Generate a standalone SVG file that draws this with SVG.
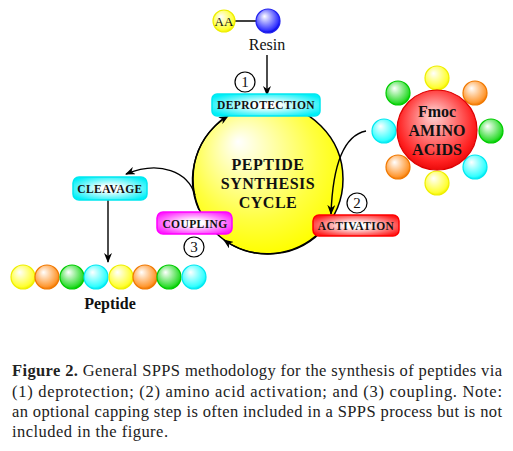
<svg xmlns="http://www.w3.org/2000/svg" width="513" height="451" viewBox="0 0 513 451">
<defs>
<radialGradient id="gY" cx="0.45" cy="0.4" r="0.6" fx="0.35" fy="0.3"><stop offset="0" stop-color="#ffffff"/><stop offset="0.85" stop-color="#ffff33"/><stop offset="1" stop-color="#f2f200"/></radialGradient>
<radialGradient id="gO" cx="0.45" cy="0.4" r="0.6" fx="0.35" fy="0.3"><stop offset="0" stop-color="#ffffff"/><stop offset="0.85" stop-color="#ff9933"/><stop offset="1" stop-color="#f07800"/></radialGradient>
<radialGradient id="gG" cx="0.45" cy="0.4" r="0.6" fx="0.35" fy="0.3"><stop offset="0" stop-color="#ffffff"/><stop offset="0.85" stop-color="#33dd33"/><stop offset="1" stop-color="#00cc00"/></radialGradient>
<radialGradient id="gC" cx="0.45" cy="0.4" r="0.6" fx="0.35" fy="0.3"><stop offset="0" stop-color="#ffffff"/><stop offset="0.85" stop-color="#33ffff"/><stop offset="1" stop-color="#00e8f0"/></radialGradient>
<radialGradient id="gB" cx="0.45" cy="0.4" r="0.6" fx="0.35" fy="0.3"><stop offset="0" stop-color="#ffffff"/><stop offset="0.85" stop-color="#3333ff"/><stop offset="1" stop-color="#0000dd"/></radialGradient>
<radialGradient id="gR" cx="0.5" cy="0.45" r="0.6" fx="0.45" fy="0.3"><stop offset="0" stop-color="#ffd8d8"/><stop offset="0.8" stop-color="#ff2020"/><stop offset="1" stop-color="#e00000"/></radialGradient>
<radialGradient id="gBig" cx="0.45" cy="0.4" r="0.6" fx="0.3" fy="0.25"><stop offset="0" stop-color="#ffffff"/><stop offset="0.7" stop-color="#ffff40"/><stop offset="1" stop-color="#ffff00"/></radialGradient>
<radialGradient id="bC" cx="0.5" cy="0.5" r="0.6"><stop offset="0.2" stop-color="#ffffff"/><stop offset="1" stop-color="#00f0f8"/></radialGradient>
<radialGradient id="bR" cx="0.5" cy="0.5" r="0.6"><stop offset="0.2" stop-color="#ffffff"/><stop offset="1" stop-color="#ff1a1a"/></radialGradient>
<radialGradient id="bM" cx="0.5" cy="0.5" r="0.6"><stop offset="0.2" stop-color="#ffffff"/><stop offset="1" stop-color="#ff1aff"/></radialGradient>
<marker id="ah" markerWidth="10" markerHeight="8" refX="9" refY="4" orient="auto" markerUnits="userSpaceOnUse"><path d="M0,0 L10,4 L0,8 L3,4 Z" fill="#000"/></marker>
</defs>
<style>
.lbl{font-family:"Liberation Serif","Times New Roman",serif;font-weight:bold;fill:#111;text-anchor:middle}
.box{font-size:11.5px;letter-spacing:0.4px}
.num{font-family:"Liberation Serif","Times New Roman",serif;font-size:15px;text-anchor:middle;fill:#111}
.nc{fill:#fff;stroke:#000;stroke-width:1.2}
.ln{fill:none;stroke:#000;stroke-width:1.4}
.ball{stroke-width:1.2}
.cap{font-family:"Liberation Serif","Times New Roman",serif;font-size:16.5px;fill:#222}
</style>

<g id="resin">
<line x1="235" y1="21" x2="256" y2="21" stroke="#000" stroke-width="1.5"/>
<circle cx="224" cy="21" r="11" fill="url(#gY)" stroke="#eeee00" class="ball"/>
<text x="224" y="26" class="num" style="font-size:13px">AA</text>
<circle cx="268" cy="21" r="12" fill="url(#gB)" stroke="#2222ee" class="ball"/>
<text x="267" y="50" class="num" style="font-size:16px">Resin</text>
</g>

<g id="cycle">
<circle cx="268" cy="179" r="75" fill="url(#gBig)" stroke="#000" stroke-width="1.5"/>
<text x="268" y="170" class="lbl" style="font-size:16px;letter-spacing:0.5px">PEPTIDE</text>
<text x="268" y="189" class="lbl" style="font-size:16px;letter-spacing:0.5px">SYNTHESIS</text>
<text x="268" y="208" class="lbl" style="font-size:16px;letter-spacing:0.5px">CYCLE</text>
</g>

<g id="connectors">
<line x1="267" y1="55" x2="267" y2="95" class="ln" marker-end="url(#ah)"/>
<path d="M 320,232 A 75 75 0 0 1 224,240" class="ln" marker-end="url(#ah)"/>
<path d="M 199,210 A 75 75 0 0 1 228,116" class="ln" marker-end="url(#ah)"/>
<path d="M 366,131 C 346,135 333,158 331,214" class="ln" marker-end="url(#ah)"/>
<path d="M 195,195 C 188,172 160,160 126,174" class="ln" marker-end="url(#ah)"/>
<line x1="108" y1="200" x2="108" y2="262" class="ln" marker-end="url(#ah)"/>
</g>

<g id="deprotection">
<rect x="212" y="94" width="108" height="22" rx="5" fill="url(#bC)" stroke="#00e8f0" stroke-width="1.5"/>
<text x="266" y="109" class="lbl box">DEPROTECTION</text>
</g>
<g id="step1"><circle cx="245" cy="82" r="10" class="nc"/><text x="245" y="87" class="num">1</text></g>

<g id="activation">
<rect x="313" y="215" width="86" height="21" rx="6" fill="url(#bR)" stroke="#ff0000" stroke-width="1.5"/>
<text x="356" y="230" class="lbl box">ACTIVATION</text>
</g>
<g id="step2"><circle cx="357" cy="203" r="10" class="nc"/><text x="357" y="208" class="num">2</text></g>

<g id="coupling">
<rect x="157" y="212" width="75" height="22" rx="6" fill="url(#bM)" stroke="#ff00ff" stroke-width="1.5"/>
<text x="195" y="228" class="lbl box">COUPLING</text>
</g>
<g id="step3"><circle cx="194" cy="247" r="10" class="nc"/><text x="194" y="252" class="num">3</text></g>

<g id="cleavage">
<rect x="73" y="177" width="74" height="23" rx="6" fill="url(#bC)" stroke="#00e8f0" stroke-width="1.5"/>
<text x="110" y="193" class="lbl box">CLEAVAGE</text>
</g>

<g id="peptide">
<circle cx="23" cy="277" r="12" fill="url(#gY)" stroke="#eeee00" class="ball"/>
<circle cx="47" cy="277" r="12" fill="url(#gO)" stroke="#f07800" class="ball"/>
<circle cx="72" cy="277" r="12" fill="url(#gG)" stroke="#00cc00" class="ball"/>
<circle cx="96" cy="277" r="12" fill="url(#gC)" stroke="#00e8f0" class="ball"/>
<circle cx="121" cy="277" r="12" fill="url(#gY)" stroke="#eeee00" class="ball"/>
<circle cx="145" cy="277" r="12" fill="url(#gO)" stroke="#f07800" class="ball"/>
<circle cx="169" cy="277" r="12" fill="url(#gG)" stroke="#00cc00" class="ball"/>
<circle cx="194" cy="277" r="12" fill="url(#gC)" stroke="#00e8f0" class="ball"/>
<text x="110" y="309" class="lbl" style="font-size:16px">Peptide</text>
</g>

<g id="fmoc">
<circle cx="437" cy="78" r="12" fill="url(#gY)" stroke="#eeee00" class="ball"/>
<circle cx="475" cy="93" r="12" fill="url(#gO)" stroke="#f07800" class="ball"/>
<circle cx="491" cy="131" r="12" fill="url(#gG)" stroke="#00cc00" class="ball"/>
<circle cx="475" cy="167" r="12" fill="url(#gC)" stroke="#00e8f0" class="ball"/>
<circle cx="437" cy="183" r="12" fill="url(#gY)" stroke="#eeee00" class="ball"/>
<circle cx="398" cy="167" r="12" fill="url(#gO)" stroke="#f07800" class="ball"/>
<circle cx="384" cy="131" r="12" fill="url(#gC)" stroke="#00e8f0" class="ball"/>
<circle cx="398" cy="93" r="12" fill="url(#gG)" stroke="#00cc00" class="ball"/>
<circle cx="437" cy="130" r="40" fill="url(#gR)" stroke="#dd0000" stroke-width="1.2"/>
<text x="437" y="117" class="lbl" style="font-size:16px">Fmoc</text>
<text x="437" y="136" class="lbl" style="font-size:16px">AMINO</text>
<text x="437" y="155" class="lbl" style="font-size:16px">ACIDS</text>
</g>

<g id="caption">
<text x="12" y="376" class="cap" textLength="490" lengthAdjust="spacing"><tspan font-weight="bold">Figure 2.</tspan> General SPPS methodology for the synthesis of peptides via</text>
<text x="12" y="397" class="cap" textLength="490" lengthAdjust="spacing">(1) deprotection; (2) amino acid activation; and (3) coupling. Note:</text>
<text x="12" y="417" class="cap" textLength="490" lengthAdjust="spacing">an optional capping step is often included in a SPPS process but is not</text>
<text x="12" y="437" class="cap" textLength="156" lengthAdjust="spacing">included in the figure.</text>
</g>
</svg>
